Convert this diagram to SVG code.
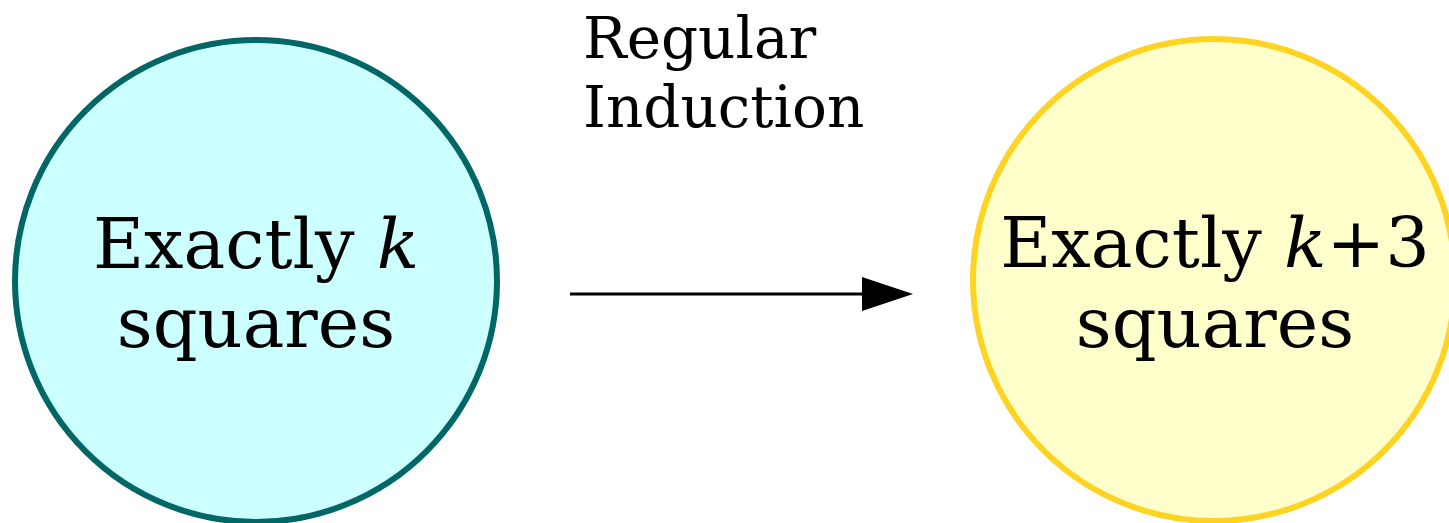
<svg xmlns="http://www.w3.org/2000/svg" width="1449" height="523" viewBox="0 0 1449 523">
<defs>
<style>
.t{font-family:"DejaVu Serif","Liberation Serif",serif;fill:#000}
.n{font-size:70px;text-anchor:middle}
.l{font-size:58px}
.k{font-style:italic}
</style>
<marker id="ah" markerWidth="51" markerHeight="34" refX="0" refY="17" markerUnits="userSpaceOnUse" orient="auto" overflow="visible">
<path d="M0,0 L51,17 L0,34 Z" fill="#000"/>
</marker>
</defs>
<rect width="1449" height="523" fill="#fff"/>
<g id="connectors">
<line x1="570" y1="294" x2="862" y2="294" stroke="#000" stroke-width="3" marker-end="url(#ah)"/>
<text class="t l" x="583" y="58">Regular</text>
<text class="t l" x="583" y="127">Induction</text>
</g>
<g id="nodeA">
<circle cx="256" cy="281" r="241" fill="#ccffff" stroke="#006666" stroke-width="6"/>
<text class="t n" x="256" y="268">Exactly <tspan class="k">k</tspan></text>
<text class="t n" x="256" y="347">squares</text>
</g>
<g id="nodeB">
<circle cx="1214" cy="280" r="241" fill="#ffffcc" stroke="#ffd321" stroke-width="6"/>
<text class="t n" x="1215" y="267">Exactly <tspan class="k">k</tspan>+3</text>
<text class="t n" x="1215" y="347">squares</text>
</g>
</svg>
